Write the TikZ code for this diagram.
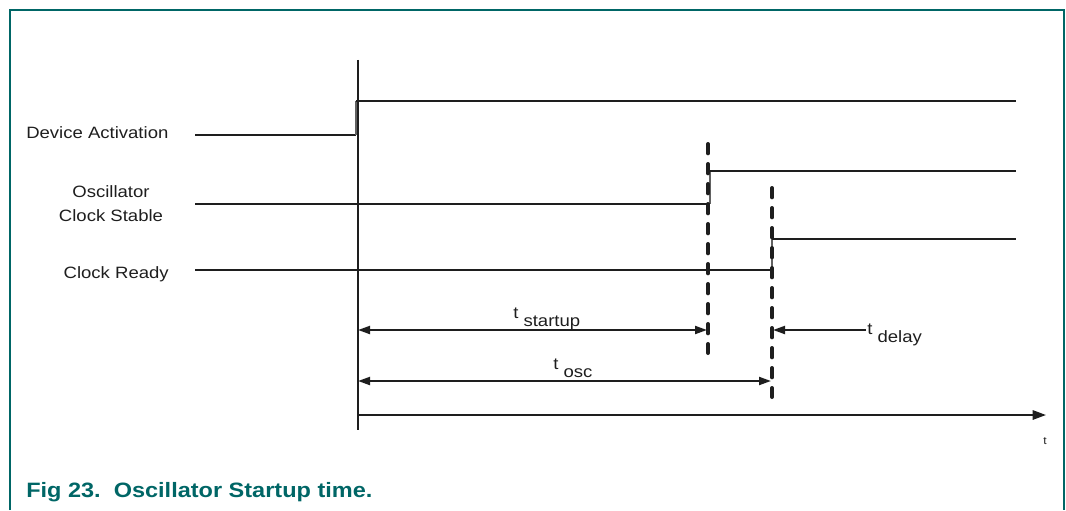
\documentclass[tikz,border=0pt]{standalone}
\usepackage{fontspec}
\setmainfont[FakeStretch=1.13]{Liberation Sans}
\usetikzlibrary{arrows.meta, positioning}
\definecolor{nxpteal}{RGB}{0, 102, 102}
\definecolor{sigblack}{RGB}{30, 30, 30}

\begin{document}
\begin{tikzpicture}[
    x=0.75pt, y=-0.75pt,
    signal/.style={line width=1.5pt, draw=sigblack},
    edge/.style={line width=1.2pt, draw=sigblack!70},
    marker/.style={line width=3pt, draw=sigblack, dash pattern=on 7pt off 8pt, line cap=round},
    span/.style={line width=1.5pt, draw=sigblack, {Triangle[length=9pt,width=6pt]}-{Triangle[length=9pt,width=6pt]}},
    lbl/.style={font=\fontsize{12.3}{18}\selectfont, text=sigblack, inner sep=0pt},
    tlbl/.style={font=\fontsize{12.3}{14}\selectfont, text=sigblack, inner sep=0pt, anchor=base west}
]
\useasboundingbox (0,0) rectangle (1066,510);

% frame
\draw[nxpteal, line width=1pt] (10,510) -- (10,10) -- (1064,10) -- (1064,510);

% time reference
\coordinate (t0top) at (358,60);
\coordinate (t0bot) at (358,430);
\draw[line width=2pt, draw=sigblack] (t0top) -- (t0bot);

% device activation
\coordinate (da0) at (195,135);
\coordinate (da1) at (356,135);
\coordinate (da2) at (356,101);
\coordinate (da3) at (1016,101);
\draw[signal] (da0) -- (da1);
\draw[edge] (da1) -- (da2);
\draw[signal] (da2) -- (da3);

% oscillator clock stable
\coordinate (os0) at (195,204);
\coordinate (os1) at (710,204);
\coordinate (os2) at (710,171);
\coordinate (os3) at (1016,171);
\draw[signal] (os0) -- (os1);
\draw[edge] (os1) -- (os2);
\draw[signal] (os2) -- (os3);

% clock ready
\coordinate (cr0) at (195,270);
\coordinate (cr1) at (772,270);
\coordinate (cr2) at (772,239);
\coordinate (cr3) at (1016,239);
\draw[signal] (cr0) -- (cr1);
\draw[edge] (cr1) -- (cr2);
\draw[signal] (cr2) -- (cr3);

% markers
\coordinate (mA) at (708,144);
\coordinate (mAend) at (708,353);
\coordinate (mB) at (772,188);
\coordinate (mBend) at (772,397);
\draw[marker] (mA) -- (mAend);
\draw[marker] (mB) -- (mBend);

% spans
\coordinate (su0) at (358,330);
\coordinate (su1) at (707,330);
\coordinate (oc0) at (358,381);
\coordinate (oc1) at (771,381);
\coordinate (dl0) at (866,330);
\coordinate (dl1) at (773,330);
\draw[span] (su0) -- (su1);
\draw[span] (oc0) -- (oc1);
\draw[line width=1.5pt, draw=sigblack, -{Triangle[length=9pt,width=6pt]}] (dl0) -- (dl1);

% time axis
\coordinate (ax0) at (358,415);
\coordinate (ax1) at (1046,415);
\draw[line width=1.5pt, draw=sigblack, -{Triangle[length=10pt,width=7pt]}] (ax0) -- (ax1);

% signal names
\node[lbl, anchor=base west] (nda) at (26,138) {Device Activation};
\node[lbl, align=center, anchor=base] (nos) at (111,221) {Oscillator\\Clock Stable};
\node[lbl, anchor=base east] (ncr) at (169,278) {Clock Ready};

% span labels
\node[tlbl] (lsu) at (513,318) {t\raisebox{-6pt}{ startup}};
\node[tlbl] (los) at (553,369) {t\raisebox{-6pt}{ osc}};
\node[tlbl] (ldl) at (867,334) {t\raisebox{-6pt}{ delay}};
\node[lbl, font=\fontsize{8}{10}\selectfont, anchor=base] (lt) at (1045,444) {t};

% caption
\node[anchor=base west, inner sep=0pt, text=nxpteal, font=\bfseries\fontsize{15.6}{18}\selectfont] (cap) at (26,497) {Fig 23.\ \ Oscillator Startup time.};
\end{tikzpicture}
\end{document}
